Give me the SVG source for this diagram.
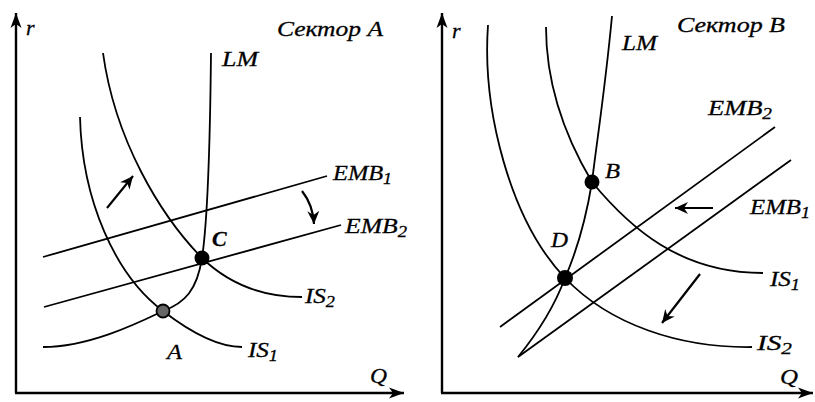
<svg xmlns="http://www.w3.org/2000/svg" width="815" height="402" viewBox="0 0 815 402">
<style>
.ax{fill:none;stroke:#000;stroke-width:2.4}
.cv{fill:none;stroke:#000;stroke-width:1.8}
.sh{fill:none;stroke:#000;stroke-width:2.2}
.t{font-family:"Liberation Serif","Times New Roman",serif;font-style:italic;font-size:22px;fill:#000;stroke:#000;stroke-width:0.3}
.b{font-weight:bold}
.sub{font-size:16px}
.pt{fill:#000}
.pa{fill:#666;stroke:#000;stroke-width:1.8}
</style>
<defs>
<marker id="axh" viewBox="-16 -6 17 12" refX="0" refY="0" markerWidth="17" markerHeight="12" markerUnits="userSpaceOnUse" orient="auto">
<path d="M0,0 L-15,-5.5 L-11,0 L-15,5.5 Z" fill="#000"/>
</marker>
<marker id="arh" viewBox="-14 -7 15 14" refX="0" refY="0" markerWidth="15" markerHeight="14" markerUnits="userSpaceOnUse" orient="auto">
<path d="M0,0 L-13,-6 L-9,0 L-13,6 Z" fill="#000"/>
</marker>
</defs>

<g id="axes">
<line class="ax" x1="16" y1="393" x2="16" y2="13" marker-end="url(#axh)"/>
<line class="ax" x1="15" y1="393" x2="404" y2="393" marker-end="url(#axh)"/>
<line class="ax" x1="442" y1="393" x2="442" y2="13" marker-end="url(#axh)"/>
<line class="ax" x1="441" y1="393" x2="813" y2="393" marker-end="url(#axh)"/>
</g>

<g id="connectors">
<!-- Sector A -->
<path id="lmA" class="cv" d="M211,53 C210,150 207,225 202,258 C197,290 185,303 163,311 C140,322 90,347 43,347"/>
<path id="is1A" class="cv" d="M80,117 C82,200 115,275 163,311 C185,328 215,347 242,347"/>
<path id="is2A" class="cv" d="M103,53 C115,140 160,215 202,258 C230,285 265,297 302,297"/>
<line id="emb1A" class="cv" x1="43" y1="257" x2="327" y2="176"/>
<line id="emb2A" class="cv" x1="44" y1="307" x2="341" y2="225"/>
<line class="sh" x1="107" y1="208" x2="133" y2="176" marker-end="url(#arh)"/>
<path class="sh" d="M302,191 Q313,205 314,224" marker-end="url(#arh)"/>
<!-- Sector B -->
<path id="lmB" class="cv" d="M612,16 C605,90 597,140 592,182 C585,225 575,255 565,278 C555,305 540,330 518,357"/>
<path id="is1B" class="cv" d="M546,27 C546,90 570,145 592,182 C630,228 680,273 763,273"/>
<path id="is2B" class="cv" d="M488,25 C482,110 510,220 565,278 C610,325 680,348 752,347"/>
<line id="emb2B" class="cv" x1="500" y1="327" x2="775" y2="127"/>
<line id="emb1B" class="cv" x1="518" y1="357" x2="791" y2="160"/>
<line class="sh" x1="713" y1="208" x2="675" y2="208" marker-end="url(#arh)"/>
<line class="sh" x1="700" y1="274" x2="662" y2="323" marker-end="url(#arh)"/>
</g>

<g id="point-C"><circle class="pt" cx="202" cy="258" r="7.5"/><text class="t b" x="212" y="246">C</text></g>
<g id="point-A"><circle class="pa" cx="163" cy="311" r="6.5"/><text class="t" x="167" y="359" textLength="15" lengthAdjust="spacingAndGlyphs">A</text></g>
<g id="point-B"><circle class="pt" cx="592" cy="182" r="7.5"/><text class="t" x="605" y="178" textLength="15" lengthAdjust="spacingAndGlyphs">B</text></g>
<g id="point-D"><circle class="pt" cx="565" cy="278" r="8"/><text class="t" x="551" y="247" textLength="17" lengthAdjust="spacingAndGlyphs">D</text></g>

<g id="labels">
<text class="t" x="26" y="35">r</text>
<text class="t" x="452" y="38">r</text>
<text class="t" x="370" y="383" textLength="17" lengthAdjust="spacingAndGlyphs">Q</text>
<text class="t" x="780" y="384" textLength="18" lengthAdjust="spacingAndGlyphs">Q</text>
<text class="t" x="277" y="36" textLength="106" lengthAdjust="spacingAndGlyphs">Сектор A</text>
<text class="t" x="677" y="32" textLength="108" lengthAdjust="spacingAndGlyphs">Сектор B</text>
<text class="t" x="222" y="66" textLength="36" lengthAdjust="spacingAndGlyphs">LM</text>
<text class="t" x="622" y="50" textLength="35" lengthAdjust="spacingAndGlyphs">LM</text>
<text class="t" x="333" y="180" textLength="59" lengthAdjust="spacingAndGlyphs">EMB<tspan class="sub" dy="4">1</tspan></text>
<text class="t" x="345" y="233" textLength="62" lengthAdjust="spacingAndGlyphs">EMB<tspan class="sub" dy="4">2</tspan></text>
<text class="t" x="305" y="303" textLength="30" lengthAdjust="spacingAndGlyphs">IS<tspan class="sub" dy="4">2</tspan></text>
<text class="t" x="248" y="357" textLength="30" lengthAdjust="spacingAndGlyphs">IS<tspan class="sub" dy="4">1</tspan></text>
<text class="t" x="708" y="115" textLength="64" lengthAdjust="spacingAndGlyphs">EMB<tspan class="sub" dy="4">2</tspan></text>
<text class="t" x="750" y="214" textLength="60" lengthAdjust="spacingAndGlyphs">EMB<tspan class="sub" dy="4">1</tspan></text>
<text class="t" x="770" y="286" textLength="30" lengthAdjust="spacingAndGlyphs">IS<tspan class="sub" dy="4">1</tspan></text>
<text class="t" x="757" y="350" textLength="35" lengthAdjust="spacingAndGlyphs">IS<tspan class="sub" dy="4">2</tspan></text>
</g>
</svg>
